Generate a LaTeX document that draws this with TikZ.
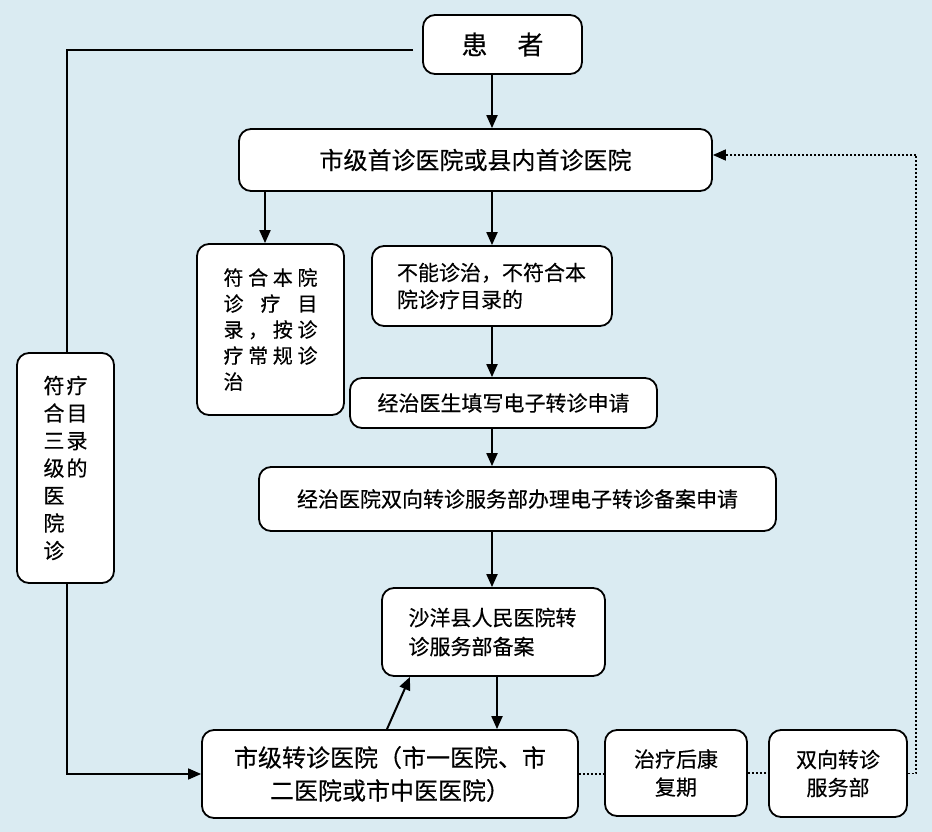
\documentclass[tikz,border=0pt]{standalone}
\usepackage{fontspec}
\setmainfont{Noto Sans CJK SC}[FakeBold=0.35]
\usetikzlibrary{arrows.meta}
\definecolor{bgc}{RGB}{218,235,242}
\newcommand{\cc}[1]{\makebox[23pt]{#1}}
\begin{document}
\begin{tikzpicture}[x=1pt,y=-1pt,
  box/.style={draw=black,line width=1.8pt,rounded corners=12pt,fill=white,inner sep=0pt,
    font=\fontsize{21}{27}\selectfont},
  arr/.style={line width=2pt,-{Triangle[length=13pt,width=11pt]}},
  plain/.style={line width=1.6pt},
  dots/.style={line width=1.6pt,dash pattern=on 1.6pt off 2.4pt}]
\useasboundingbox (0,0) rectangle (932,832);
\fill[bgc] (0,0) rectangle (932,832);

\node[box,minimum width=159pt,minimum height=59pt,font=\fontsize{26}{30}\selectfont] (pat) at (502.5,44.5) {\raisebox{-2pt}{患\hspace{1.15em}者}};
\node[box,minimum width=473pt,minimum height=62pt,font=\fontsize{24}{30}\selectfont] (first) at (475.5,160) {市级首诊医院或县内首诊医院};
\node[box,minimum width=147pt,minimum height=171pt,align=center,font=\fontsize{20}{26}\selectfont] (conform) at (270.5,329.5)
  {\makebox[94pt][s]{符\hfill 合\hfill 本\hfill 院}\\
   \makebox[94pt][s]{诊\hfill 疗\hfill 目}\\
   \makebox[94pt][s]{录\hfill ，\hfill 按\hfill 诊}\\
   \makebox[94pt][s]{疗\hfill 常\hfill 规\hfill 诊}\\
   \makebox[94pt][l]{治}};
\node[box,minimum width=240pt,minimum height=80pt,text width=190pt,align=left] (cannot) at (492,286)
  {不能诊治，不符合本\\院诊疗目录的};
\node[box,minimum width=307pt,minimum height=50pt] (doc) at (503.5,403) {经治医生填写电子转诊申请};
\node[box,minimum width=517pt,minimum height=64pt] (hosp) at (517.5,499) {经治医院双向转诊服务部办理电子转诊备案申请};
\node[box,minimum width=223pt,minimum height=88pt,text width=170pt,align=left,font=\fontsize{21}{29}\selectfont] (sy) at (493.5,632)
  {沙洋县人民医院转\\诊服务部备案};
\node[box,minimum width=376pt,minimum height=88pt,align=center,font=\fontsize{24}{33}\selectfont] (city) at (390,774)
  {市级转诊医院（市一医院、市\\二医院或市中医医院）};
\node[box,minimum width=142pt,minimum height=86pt,align=center,font=\fontsize{21}{28}\selectfont] (rehab) at (676,773)
  {治疗后康\\复期};
\node[box,minimum width=138pt,minimum height=87pt,align=center,font=\fontsize{21}{28}\selectfont] (bidir) at (838,773.5)
  {双向转诊\\服务部};
\node[box,minimum width=97pt,minimum height=230pt,align=left,font=\fontsize{21}{27.5}\selectfont] (left) at (65.5,468)
  {\cc{符}\cc{疗}\\\cc{合}\cc{目}\\\cc{三}\cc{录}\\\cc{级}\cc{的}\\\cc{医}\cc{}\\\cc{院}\cc{}\\\cc{诊}\cc{}};

% main vertical flow
\draw[arr] (pat.south -| cannot.north) -- (first.north -| cannot.north);
\draw[arr] ([xshift=-5.5pt]first.south -| conform.north) -- ([xshift=-5.5pt]conform.north);
\draw[arr] (first.south -| cannot.north) -- (cannot.north);
\draw[arr] (cannot.south) -- (doc.north -| cannot.south);
\draw[arr] (doc.south -| cannot.south) -- (hosp.north -| cannot.south);
\draw[arr] (hosp.south -| cannot.south) -- (sy.north -| cannot.south);
\draw[arr] ([xshift=3.5pt]sy.south) -- ([xshift=3.5pt]sy.south |- city.north);
\draw[arr] ([xshift=-3pt]city.north) -- ([xshift=-83.5pt]sy.south);

% left loop
\coordinate (p1) at (413,50);
\draw[plain] (p1) -| ([xshift=1.5pt]left.north);
\draw[arr,line width=1.6pt] ([xshift=1.5pt]left.south) |- (city.west);

% dotted links
\draw[dots] (city.east) -- (city.east -| rehab.west);
\draw[dots] (rehab.east) -- (rehab.east -| bidir.west);
\coordinate (p2) at (916,155);
\draw[dots] (bidir.east) -- (bidir.east -| p2) -- (p2);
\draw[dots,-{Triangle[length=13pt,width=11pt]}] (p2) -- (p2 -| first.east);
\end{tikzpicture}
\end{document}
